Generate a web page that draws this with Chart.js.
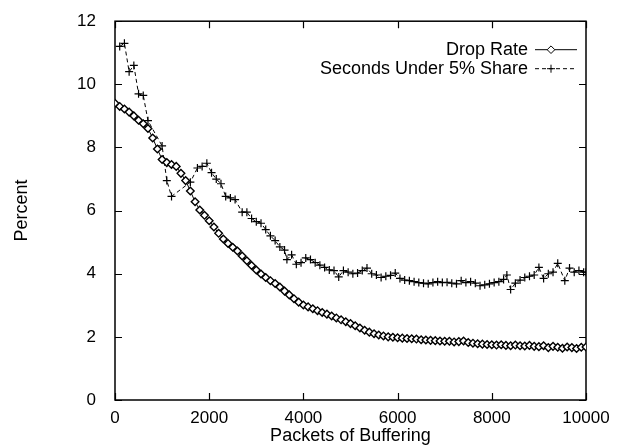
<!DOCTYPE html>
<html>
<head>
<meta charset="utf-8">
<script src="https://cdn.jsdelivr.net/npm/chart.js@4/dist/chart.umd.min.js"></script>
<style>
  body { margin: 0; background: #fff; }
  #myChart { display: block; }
</style>
</head>
<body>
<canvas id="myChart" width="636" height="447"></canvas>
<script>
// buffer sizes (packets) for the drop rate curve
const dropPackets = [
    0, 100, 200, 300, 400, 500, 600, 700, 800, 900,
    1000, 1100, 1200, 1300, 1400, 1500, 1600, 1700, 1800, 1900,
    2000, 2100, 2200, 2300, 2400, 2500, 2600, 2700, 2800, 2900,
    3000, 3100, 3200, 3300, 3400, 3500, 3600, 3700, 3800, 3900,
    4000, 4100, 4200, 4300, 4400, 4500, 4600, 4700, 4800, 4900,
    5000, 5100, 5200, 5300, 5400, 5500, 5600, 5700, 5800, 5900,
    6000, 6100, 6200, 6300, 6400, 6500, 6600, 6700, 6800, 6900,
    7000, 7100, 7200, 7300, 7400, 7500, 7600, 7700, 7800, 7900,
    8000, 8100, 8200, 8300, 8400, 8500, 8600, 8700, 8800, 8900,
    9000, 9100, 9200, 9300, 9400, 9500, 9600, 9700, 9800, 9900,
    10000
];
const dropRate = [
    9.40, 9.30, 9.22, 9.12, 9.00, 8.86, 8.75, 8.60, 8.30, 7.95,
    7.62, 7.52, 7.46, 7.40, 7.18, 6.95, 6.62, 6.28, 6.02, 5.85,
    5.68, 5.48, 5.28, 5.10, 4.96, 4.84, 4.72, 4.56, 4.41, 4.26,
    4.12, 3.99, 3.88, 3.78, 3.69, 3.58, 3.45, 3.33, 3.21, 3.10,
    3.01, 2.95, 2.89, 2.83, 2.77, 2.72, 2.66, 2.60, 2.54, 2.48,
    2.42, 2.35, 2.28, 2.21, 2.15, 2.10, 2.06, 2.03, 2.00, 1.99,
    1.97, 1.96, 1.95, 1.94, 1.93, 1.91, 1.90, 1.89, 1.88, 1.87,
    1.86, 1.86, 1.84, 1.85, 1.87, 1.82, 1.80, 1.78, 1.77, 1.76,
    1.75, 1.74, 1.75, 1.73, 1.72, 1.74, 1.72, 1.71, 1.73, 1.70,
    1.69, 1.72, 1.66, 1.70, 1.67, 1.64, 1.68, 1.66, 1.63, 1.67,
    1.68
];

// buffer sizes (packets) for the "seconds under 5% share" curve
const sharePackets = [
    100, 200, 300, 400, 500, 600, 700, 1000, 1100, 1200,
    1600, 1750, 1850, 1950, 2050, 2150, 2250, 2350, 2450, 2550,
    2700, 2800, 2900, 3000, 3100, 3200, 3300, 3400, 3500, 3600,
    3650, 3750, 3850, 3950, 4050, 4150, 4250, 4350, 4450, 4550,
    4650, 4750, 4850, 4950, 5050, 5150, 5250, 5350, 5450, 5550,
    5650, 5750, 5850, 5950, 6050, 6150, 6250, 6350, 6450, 6550,
    6650, 6750, 6850, 6950, 7050, 7150, 7250, 7350, 7450, 7550,
    7650, 7750, 7850, 7950, 8050, 8150, 8250, 8320, 8400, 8500,
    8600, 8700, 8800, 8900, 9000, 9100, 9200, 9300, 9400, 9550,
    9650, 9750, 9850, 9950, 10000
];
const secondsUnder = [
    11.2, 11.3, 10.4, 10.6, 9.7, 9.65, 8.85, 8.05, 6.95, 6.45,
    6.9, 7.35, 7.4, 7.5, 7.2, 7.0, 6.85, 6.45, 6.4, 6.35,
    5.95, 5.95, 5.75, 5.65, 5.6, 5.4, 5.2, 5.05, 4.85, 4.75,
    4.45, 4.6, 4.3, 4.35, 4.5, 4.45, 4.35, 4.27, 4.2, 4.12,
    4.1, 3.9, 4.1, 4.05, 4.0, 4.02, 4.1, 4.18, 4.0, 3.96,
    3.88, 3.92, 3.95, 4.02, 3.85, 3.8, 3.78, 3.75, 3.72, 3.7,
    3.68, 3.72, 3.75, 3.72, 3.73, 3.7, 3.68, 3.78, 3.72, 3.75,
    3.7, 3.62, 3.65, 3.68, 3.72, 3.75, 3.82, 3.96, 3.5, 3.7,
    3.8, 3.88, 3.92, 3.96, 4.2, 3.85, 4.0, 4.05, 4.33, 3.78,
    4.18, 4.05, 4.1, 4.05, 4.05
];

const xTicks = [0, 2000, 4000, 6000, 8000, 10000];
const yTicks = [0, 2, 4, 6, 8, 10, 12];

const seriesNames = ['Drop Rate', 'Seconds Under 5% Share'];

const FONT = 'Liberation Sans, Arial, Helvetica, sans-serif';

function toPoints(xs, ys) {
    return xs.map((x, i) => ({x: x, y: ys[i]}));
}

// gnuplot style frame with inward ticks on all four sides
const framePlugin = {
    id: 'frame',
    beforeDatasetsDraw(chart) {
        const ctx = chart.ctx;
        const a = chart.chartArea;
        const xs = chart.scales.x;
        const ys = chart.scales.y;
        const len = 7;
        ctx.save();
        ctx.strokeStyle = '#000';
        ctx.lineWidth = 1.2;
        ctx.beginPath();
        xTicks.forEach(v => {
            const px = Math.round(xs.getPixelForValue(v)) + 0.5;
            ctx.moveTo(px, a.bottom); ctx.lineTo(px, a.bottom - len);
            ctx.moveTo(px, a.top); ctx.lineTo(px, a.top + len);
        });
        yTicks.forEach(v => {
            const py = Math.round(ys.getPixelForValue(v)) + 0.5;
            ctx.moveTo(a.left, py); ctx.lineTo(a.left + len, py);
            ctx.moveTo(a.right, py); ctx.lineTo(a.right - len, py);
        });
        ctx.stroke();
        ctx.lineWidth = 1.5;
        ctx.strokeRect(a.left, a.top, a.right - a.left, a.bottom - a.top);
        ctx.restore();
    }
};

// key in the top right corner: text first, then the line sample
const keyPlugin = {
    id: 'key',
    afterDatasetsDraw(chart) {
        const ctx = chart.ctx;
        const a = chart.chartArea;
        const textRight = a.right - 58;
        const x0 = a.right - 51;
        const x1 = a.right - 9;
        ctx.save();
        ctx.font = '18px ' + FONT;
        ctx.fillStyle = '#000';
        ctx.textAlign = 'right';
        ctx.textBaseline = 'middle';
        chart.data.datasets.forEach((ds, i) => {
            const y = a.top + 28 + i * 19;
            ctx.fillText(ds.label, textRight, y + 1);
            ctx.strokeStyle = '#000';
            ctx.lineWidth = 1;
            ctx.setLineDash(ds.borderDash || []);
            ctx.beginPath();
            ctx.moveTo(x0, y + 0.5);
            ctx.lineTo(x1, y + 0.5);
            ctx.stroke();
            ctx.setLineDash([]);
            ctx.fillStyle = '#fff';
            Chart.helpers.drawPoint(ctx, {
                pointStyle: ds.pointStyle,
                radius: ds.pointRadius,
                borderWidth: ds.pointBorderWidth
            }, (x0 + x1) / 2 - 5, y + 0.5);
            ctx.fillStyle = '#000';
        });
        ctx.restore();
    }
};

const ctx = document.getElementById('myChart').getContext('2d');

new Chart(ctx, {
    type: 'scatter',
    data: {
        datasets: [{
            label: seriesNames[0],
            data: toPoints(dropPackets, dropRate),
            showLine: true,
            borderColor: '#000',
            borderWidth: 1,
            backgroundColor: '#fff',
            pointStyle: 'rectRot',
            pointRadius: 3.8,
            pointBorderWidth: 1.4,
            pointBorderColor: '#000',
            pointBackgroundColor: '#fff'
        }, {
            label: seriesNames[1],
            data: toPoints(sharePackets, secondsUnder),
            showLine: true,
            borderColor: '#000',
            borderWidth: 1,
            borderDash: [4, 3],
            pointStyle: 'cross',
            pointRadius: 4,
            pointBorderWidth: 1.2,
            pointBorderColor: '#000'
        }]
    },
    options: {
        responsive: false,
        animation: false,
        devicePixelRatio: 1,
        layout: {
            padding: {top: 20, right: 50, left: 0, bottom: 0}
        },
        plugins: {
            legend: {display: false},
            tooltip: {enabled: false}
        },
        scales: {
            x: {
                type: 'linear',
                position: 'bottom',
                min: 0,
                max: 10000,
                afterBuildTicks: scale => {
                    scale.ticks = xTicks.map(v => ({value: v}));
                },
                afterFit: scale => { scale.height = 47; },
                ticks: {
                    color: '#000',
                    font: {family: FONT, size: 17},
                    padding: 8,
                    maxRotation: 0,
                    callback: v => String(v)
                },
                grid: {display: false, drawTicks: false},
                border: {display: false},
                title: {
                    display: true,
                    text: 'Packets of Buffering',
                    color: '#000',
                    font: {family: FONT, size: 18},
                    padding: {top: 0, bottom: 0}
                }
            },
            y: {
                min: 0,
                max: 12,
                afterBuildTicks: scale => {
                    scale.ticks = yTicks.map(v => ({value: v}));
                },
                afterFit: scale => { scale.width = 115; },
                ticks: {
                    color: '#000',
                    font: {family: FONT, size: 17},
                    padding: 11
                },
                grid: {display: false},
                border: {display: false},
                title: {
                    display: true,
                    text: 'Percent',
                    color: '#000',
                    font: {family: FONT, size: 18},
                    padding: {top: 11, bottom: 0}
                }
            }
        }
    },
    plugins: [framePlugin, keyPlugin]
});
</script>
</body>
</html>
